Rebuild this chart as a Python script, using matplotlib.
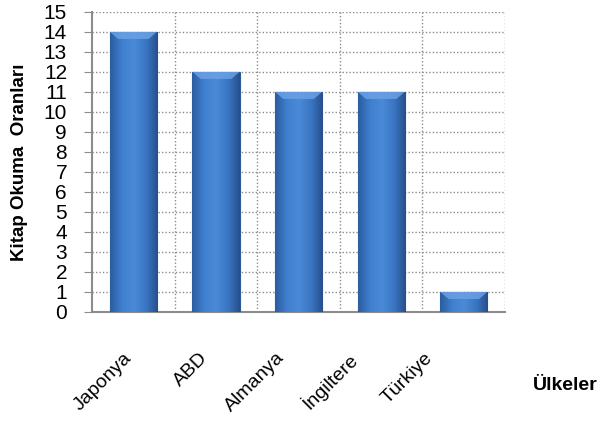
import matplotlib.pyplot as plt
import numpy as np
from matplotlib.colors import LinearSegmentedColormap
from matplotlib.patches import Polygon
from matplotlib.transforms import ScaledTranslation

ulkeler = ["Japonya", "ABD", "Almanya", "İngiltere", "Türkiye"]
oranlar = [14, 12, 11, 11, 1]

plt.rcParams['font.family'] = ['Liberation Sans', 'DejaVu Sans']

fig = plt.figure(figsize=(6.02, 4.25), dpi=100)
ax = fig.add_axes([0.153, 0.266, 0.686, 0.706])

x = np.arange(len(ulkeler))
width = 0.57
bars = ax.bar(x, oranlar, width=width, color='#3b78c6', edgecolor='#2a5a98',
              linewidth=0.8, zorder=3)

# gradient fill inside each bar
cmap = LinearSegmentedColormap.from_list(
    "mavi", ["#2b5c9e", "#3f7fcf", "#4a8ad6", "#3a76c3", "#274f8a"])
grad = np.linspace(0, 1, 256).reshape(1, -1)
for b in bars:
    x0, w, h = b.get_x(), b.get_width(), b.get_height()
    im = ax.imshow(grad, cmap=cmap, aspect='auto', extent=[x0, x0 + w, 0, h],
                   zorder=3.5)
    im.set_clip_path(b)
    # lighter bevel at top
    bev = min(0.35, h * 0.35)
    top = Polygon([[x0, h], [x0 + w, h], [x0 + w - 0.1, h - bev],
                   [x0 + 0.1, h - bev]], closed=True, facecolor='#6ea3e6',
                  edgecolor='none', alpha=0.8, zorder=3.6)
    ax.add_patch(top)

ax.set_xlim(-0.5, len(ulkeler) - 0.5)
ax.set_ylim(0, 15)
ax.set_yticks(range(0, 16))
ax.set_xticks(x)
ax.set_xticklabels(ulkeler, rotation=45, ha='right', rotation_mode='anchor',
                   fontsize=14)
ax.tick_params(axis='x', length=0, pad=27)
ax.tick_params(axis='y', length=6, color='#8c8c8c', labelsize=15, pad=12)

# excel puts the rotated labels a bit closer together
kaydir = [-10, -17, -23, -34, -40]  # pixels
for lbl, dx in zip(ax.get_xticklabels(), kaydir):
    lbl.set_transform(lbl.get_transform() +
                      ScaledTranslation(dx / 100, 0, fig.dpi_scale_trans))

# grid
for yv in range(1, 16):
    ax.axhline(yv, color='#8c8c8c', linestyle=(0, (1, 1.5)), linewidth=1.0,
               zorder=1)
for xv in np.arange(0.5, len(ulkeler), 1.0):
    ax.axvline(xv, color='#8c8c8c', linestyle=(0, (1, 1.5)), linewidth=1.0,
               zorder=1)

for s in ['top', 'right']:
    ax.spines[s].set_visible(False)
ax.spines['left'].set_color('#8c8c8c')
ax.spines['bottom'].set_color('#8c8c8c')
ax.spines['left'].set_linewidth(1.5)
ax.spines['bottom'].set_linewidth(1.5)

ax.set_ylabel("Kitap Okuma  Oranları", fontsize=13.5, fontweight='bold')
ax.yaxis.set_label_coords(-0.155, 0.5)
fig.text(0.939, 0.092, "Ülkeler", fontsize=14, fontweight='bold',
         ha='center', va='center')

fig.savefig("out.png", dpi=100)
